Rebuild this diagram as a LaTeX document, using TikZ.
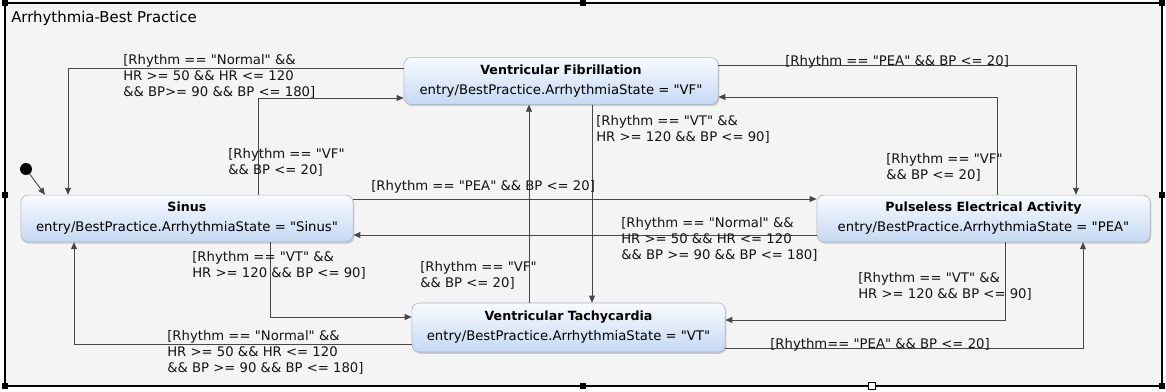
\documentclass[tikz,border=0pt]{standalone}
\usepackage{fontspec}
\setmainfont{DejaVu Sans}[Ligatures=TeXOff]
\usetikzlibrary{arrows.meta,shadows}
\definecolor{stTop}{HTML}{F8FBFF}
\definecolor{stBot}{HTML}{C5D8F3}
\definecolor{stLine}{HTML}{A9B3C1}
\definecolor{wire}{HTML}{474747}
\definecolor{canvas}{HTML}{F4F4F4}
\tikzset{
  stblk/.style={draw=stLine,rounded corners=5pt,top color=stTop,bottom color=stBot,align=center,inner sep=0pt,minimum height=1.17cm,
    drop shadow={shadow xshift=1pt,shadow yshift=-1.3pt,fill=black!40,opacity=0.45},font=\fontsize{9.4}{11.4}\selectfont},
  grd/.style={anchor=north west,inner sep=0pt,align=left,text=black!92,font=\fontsize{9.4}{11.4}\selectfont},
  arr/.style={draw=wire,line width=0.65pt,-{Triangle[length=5pt,width=4.2pt]}},
  hdl/.style={fill=black,inner sep=0pt,minimum size=4.3pt},
  hdlo/.style={draw=black,fill=white,line width=0.6pt,inner sep=0pt,minimum size=4.6pt},
  initdot/.style={circle,fill=black,inner sep=0pt,minimum size=8.5pt}
}
\newcommand{\sttl}[1]{{\bfseries\fontsize{9}{11}\selectfont #1}\\[2.8pt]}
\begin{document}
\begin{tikzpicture}[x=0.025cm,y=-0.025cm]
  \useasboundingbox (0,0) rectangle (1166,392);
  % Chart frame
  \draw[fill=canvas,line width=1.1pt] (5,3) rectangle (1162,386);
  \node[anchor=north west,inner sep=0pt,font=\fontsize{10.6}{12}\selectfont] (title) at (11,11) {Arrhythmia-Best Practice};
  \foreach \px/\py [count=\i] in {5/3,583/3,1162/3,5/195,1162/195,5/386,583/386,1162/386}
    \node[hdl] (h\i) at (\px,\py) {};
  \node[hdlo] (hsel) at (872,386) {};

  % States
  \node[stblk,minimum width=7.85cm] (vf) at (561,81) {\sttl{Ventricular Fibrillation}entry/BestPractice.ArrhythmiaState = "VF"};
  \node[stblk,minimum width=8.3cm] (sinus) at (187,218.5) {\sttl{Sinus}entry/BestPractice.ArrhythmiaState = "Sinus"};
  \node[stblk,minimum width=8.325cm] (pea) at (983.5,218.5) {\sttl{Pulseless Electrical Activity}entry/BestPractice.ArrhythmiaState = "PEA"};
  \node[stblk,minimum width=7.825cm,minimum height=1.225cm] (vt) at (568.5,327.5) {\sttl{Ventricular Tachycardia}entry/BestPractice.ArrhythmiaState = "VT"};

  % Initial state
  \node[initdot] (init) at (26,169) {};
  \draw[arr] (init) -- (sinus.north -| 45,0);

  % Transitions out of VF
  \draw[arr] (vf.west |- 0,68) -| (sinus.north -| 68,0);
  \draw[arr] (vf.east |- 0,65) -| (pea.north -| 1076,0);
  \draw[arr] (vf.south -| 592,0) -- (vt.north -| 592,0);
  \node[grd] (gVFSi) at (123,54) {[Rhythm == "Normal" \&\&\\HR >= 50 \&\& HR <= 120\\\&\& BP>= 90 \&\& BP <= 180]};
  \node[grd] (gVFPe) at (785,55) {[Rhythm == "PEA" \&\& BP <= 20]};
  \node[grd] (gVFVt) at (596,115) {[Rhythm == "VT" \&\&\\HR >= 120 \&\& BP <= 90]};

  % Transitions out of Sinus
  \draw[arr] (sinus.north -| 258,0) |- (vf.west |- 0,98);
  \draw[arr] (sinus.east |- 0,199) -- (pea.west |- 0,199);
  \draw[arr] (sinus.south -| 270,0) |- (vt.west |- 0,317);
  \node[grd] (gSiVF) at (228,148) {[Rhythm == "VF"\\\&\& BP <= 20]};
  \node[grd] (gSiPe) at (371,180) {[Rhythm == "PEA" \&\& BP <= 20]};
  \node[grd] (gSiVt) at (192,251) {[Rhythm == "VT" \&\&\\HR >= 120 \&\& BP <= 90]};

  % Transitions out of PEA
  \draw[arr] (pea.north -| 997,0) |- (vf.east |- 0,97);
  \draw[arr] (pea.west |- 0,235) -- (sinus.east |- 0,235);
  \draw[arr] (pea.south -| 1005,0) |- (vt.east |- 0,320);
  \node[grd] (gPeVF) at (886,153) {[Rhythm == "VF"\\\&\& BP <= 20]};
  \node[grd] (gPeSi) at (621,217) {[Rhythm == "Normal" \&\&\\HR >= 50 \&\& HR <= 120\\\&\& BP >= 90 \&\& BP <= 180]};
  \node[grd] (gPeVt) at (858,272) {[Rhythm == "VT" \&\&\\HR >= 120 \&\& BP <= 90]};

  % Transitions out of VT
  \draw[arr] (vt.north -| 529,0) -- (vf.south -| 529,0);
  \draw[arr] (vt.west |- 0,344) -| (sinus.south -| 74,0);
  \draw[arr] (vt.east |- 0,348) -| (pea.south -| 1083,0);
  \node[grd] (gVtVF) at (420,261) {[Rhythm == "VF"\\\&\& BP <= 20]};
  \node[grd] (gVtSi) at (167,330) {[Rhythm == "Normal" \&\&\\HR >= 50 \&\& HR <= 120\\\&\& BP >= 90 \&\& BP <= 180]};
  \node[grd] (gVtPe) at (770,338) {[Rhythm== "PEA" \&\& BP <= 20]};
\end{tikzpicture}
\end{document}
